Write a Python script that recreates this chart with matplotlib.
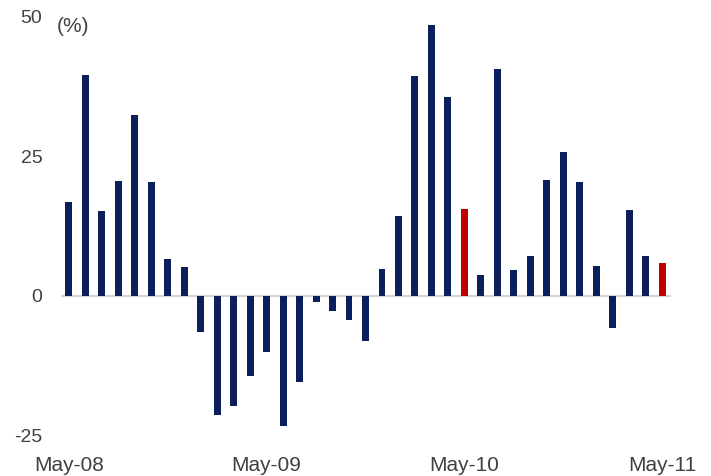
import numpy as np
import matplotlib
matplotlib.use("Agg")
import matplotlib.pyplot as plt

plt.rcParams['font.family'] = ['Liberation Sans', 'DejaVu Sans']

# monthly growth, May-08 .. May-11 (%)
values = [16.8, 39.5, 15.2, 20.6, 32.3, 20.3, 6.6, 5.1,
          -6.5, -21.3, -19.7, -14.3, -10.0, -23.3, -15.4, -1.1, -2.8, -4.3, -8.2,
          4.8, 14.2, 39.3, 48.5, 35.5, 15.6, 3.7, 40.6, 4.6, 7.1, 20.8, 25.7, 20.3,
          5.3, -5.8, 15.3, 7.1, 5.8]
highlight = [24, 36]
tick_idx = [0, 12, 24, 36]
tick_labels = ["May-08", "May-09", "May-10", "May-11"]
y_ticks = [-25, 0, 25, 50]

navy = "#0b1f5c"
red = "#c00000"
txt = "#404040"

fig = plt.figure(figsize=(7.11, 4.76), dpi=100)
ax = fig.add_axes([60.5 / 711, (476 - 435.3) / 476, 610 / 711, 418.8 / 476])

x = np.arange(len(values))
colors = [red if i in highlight else navy for i in x]
ax.axhline(0, color="#d4d4d4", lw=1.5, zorder=1)
ax.bar(x, values, width=0.42, color=colors, zorder=2)

ax.set_xlim(-0.5, len(values) - 0.5)
ax.set_ylim(-25, 50)
ax.set_yticks(y_ticks)
ax.set_yticklabels([str(v) for v in y_ticks])
ax.set_xticks(tick_idx)
ax.set_xticklabels(tick_labels)
ax.tick_params(axis="both", length=0, labelcolor=txt)
ax.tick_params(axis="y", pad=13, labelsize=14)
ax.tick_params(axis="x", pad=15, labelsize=15)
for s in ax.spines.values():
    s.set_visible(False)

fig.text(57 / 711, 1 - 26.5 / 476, "(%)", fontsize=15, color=txt, va="center", ha="left")

fig.savefig("out.png", dpi=100, facecolor="white")
